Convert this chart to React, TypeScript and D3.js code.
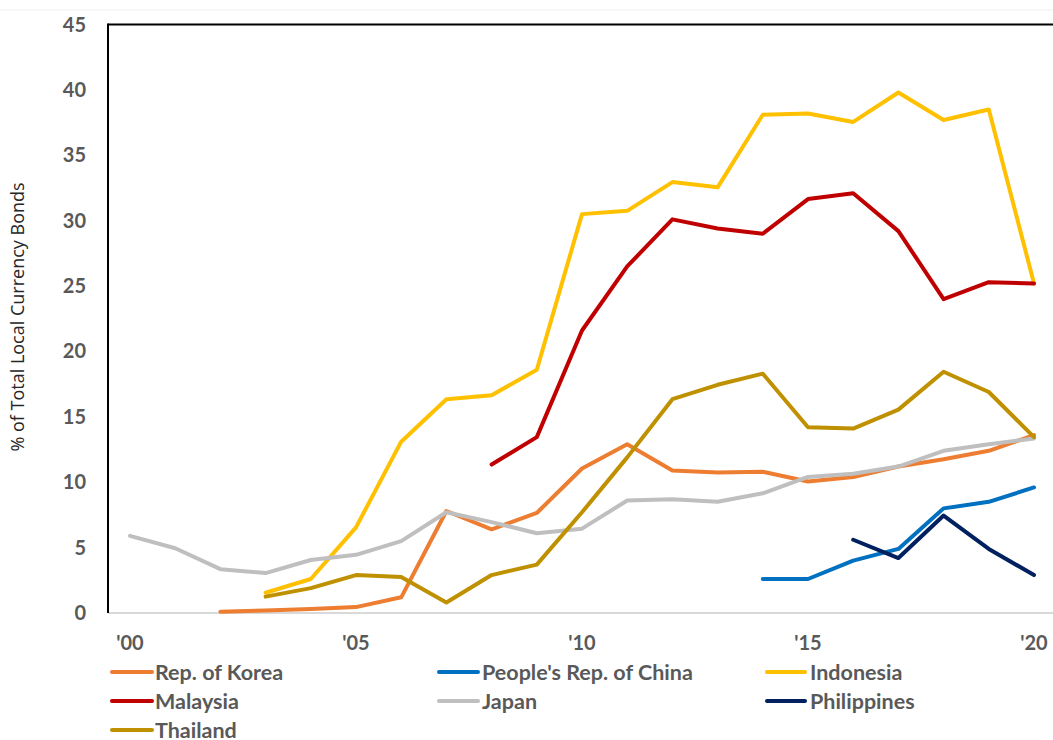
import React from 'react'
import * as d3 from 'd3'

const years = d3.range(2000, 2021)
const xTickYears = [2000, 2005, 2010, 2015, 2020]
const xTickLabels = ["'00", "'05", "'10", "'15", "'20"]
const yTicks = [0, 5, 10, 15, 20, 25, 30, 35, 40, 45]

type V = number | null

const korea: V[] = [null, null, 0.1, 0.2, 0.3, 0.45, 1.2, 7.8, 6.4, 7.65, 11.05, 12.9, 10.9, 10.75, 10.8, 10.05, 10.4, 11.2, 11.75, 12.4, 13.6]
const china: V[] = [null, null, null, null, null, null, null, null, null, null, null, null, null, null, 2.6, 2.6, 4.0, 4.9, 8.0, 8.5, 9.6]
const indonesia: V[] = [null, null, null, 1.55, 2.6, 6.55, 13.1, 16.35, 16.65, 18.6, 30.5, 30.75, 32.95, 32.55, 38.1, 38.2, 37.55, 39.8, 37.7, 38.5, 25.2]
const malaysia: V[] = [null, null, null, null, null, null, null, null, 11.35, 13.45, 21.6, 26.5, 30.1, 29.4, 29.0, 31.65, 32.1, 29.2, 24.0, 25.3, 25.2]
const japan: V[] = [5.9, 4.95, 3.35, 3.05, 4.05, 4.45, 5.5, 7.7, 6.95, 6.1, 6.45, 8.6, 8.7, 8.5, 9.15, 10.4, 10.65, 11.2, 12.4, 12.9, 13.35]
const philippines: V[] = [null, null, null, null, null, null, null, null, null, null, null, null, null, null, null, null, 5.6, 4.2, 7.45, 4.9, 2.9]
const thailand: V[] = [null, null, null, 1.25, 1.9, 2.9, 2.75, 0.8, 2.9, 3.7, 7.7, 11.9, 16.35, 17.45, 18.3, 14.2, 14.1, 15.55, 18.45, 16.9, 13.45]

const series = [
  { name: 'Rep. of Korea', values: korea, color: '#ED7D31' },
  { name: "People's Rep. of China", values: china, color: '#0070C0' },
  { name: 'Indonesia', values: indonesia, color: '#FFC000' },
  { name: 'Malaysia', values: malaysia, color: '#C00000' },
  { name: 'Japan', values: japan, color: '#BFBFBF' },
  { name: 'Philippines', values: philippines, color: '#002060' },
  { name: 'Thailand', values: thailand, color: '#BF9000' },
]

const width = 1053
const height = 740
const plotLeft = 108
const plotRight = 1053
const plotTop = 24.5
const plotBottom = 613

const textColor = '#595959'
const font = 'Lato, "Open Sans", sans-serif'

export default function App() {
  const x = d3.scaleLinear().domain([2000, 2020]).range([130, 1034])
  const y = d3.scaleLinear().domain([0, 45]).range([plotBottom, plotTop])

  const line = d3
    .line<[number, V]>()
    .defined((d) => d[1] !== null)
    .x((d) => x(d[0]))
    .y((d) => y(d[1] as number))

  // legend: 3 columns, rows in reading order
  const legendCols = [
    { lx0: 112, lx1: 152, tx: 155 },
    { lx0: 439, lx1: 478, tx: 482 },
    { lx0: 767, lx1: 805, tx: 810 },
  ]
  const legendRows = [672, 701, 730]

  return (
    <svg
      width={width}
      height={height}
      style={{ position: 'absolute', left: 0, top: 0, background: '#fff' }}
      fontFamily={font}
    >
      <rect width={width} height={height} fill="#fff" />
      <line x1={0} x2={width} y1={10} y2={10} stroke="#eeeeee" strokeWidth={1} />

      {/* frame */}
      <line x1={plotLeft} x2={plotRight} y1={plotBottom} y2={plotBottom} stroke="#d9d9d9" strokeWidth={2} />
      <line x1={plotLeft} x2={plotRight} y1={plotTop} y2={plotTop} stroke="#000" strokeWidth={2} />
      <line x1={plotLeft} x2={plotLeft} y1={plotTop - 1} y2={plotBottom} stroke="#000" strokeWidth={2} />

      {/* y ticks */}
      {yTicks.map((t) => (
        <text
          key={t}
          x={86}
          y={y(t)}
          dy="0.35em"
          textAnchor="end"
          fontSize={20}
          fontWeight="bold"
          fill={textColor}
        >
          {t}
        </text>
      ))}

      {/* x ticks */}
      {xTickYears.map((yr, i) => (
        <text
          key={yr}
          x={x(yr)}
          y={643}
          dy="0.35em"
          textAnchor="middle"
          fontSize={20}
          fontWeight="bold"
          fill={textColor}
        >
          {xTickLabels[i]}
        </text>
      ))}

      <text
        transform={`translate(24, 317) rotate(-90)`}
        textAnchor="middle"
        fontSize={18}
        fill="#262626"
        fontFamily='"Open Sans", sans-serif'
      >
        % of Total Local Currency Bonds
      </text>

      {/* lines */}
      {series.map((s) => (
        <path
          key={s.name}
          d={line(years.map((yr, i) => [yr, s.values[i]] as [number, V])) || ''}
          fill="none"
          stroke={s.color}
          strokeWidth={4}
          strokeLinejoin="round"
          strokeLinecap="round"
        />
      ))}

      {/* legend */}
      {series.map((s, i) => {
        const col = legendCols[i % 3]
        const row = legendRows[Math.floor(i / 3)]
        return (
          <g key={s.name}>
            <line x1={col.lx0} x2={col.lx1} y1={row} y2={row} stroke={s.color} strokeWidth={4} strokeLinecap="round" />
            <text x={col.tx} y={row} dy="0.35em" fontSize={21.5} fontWeight="bold" fill={textColor}>
              {s.name}
            </text>
          </g>
        )
      })}
    </svg>
  )
}
